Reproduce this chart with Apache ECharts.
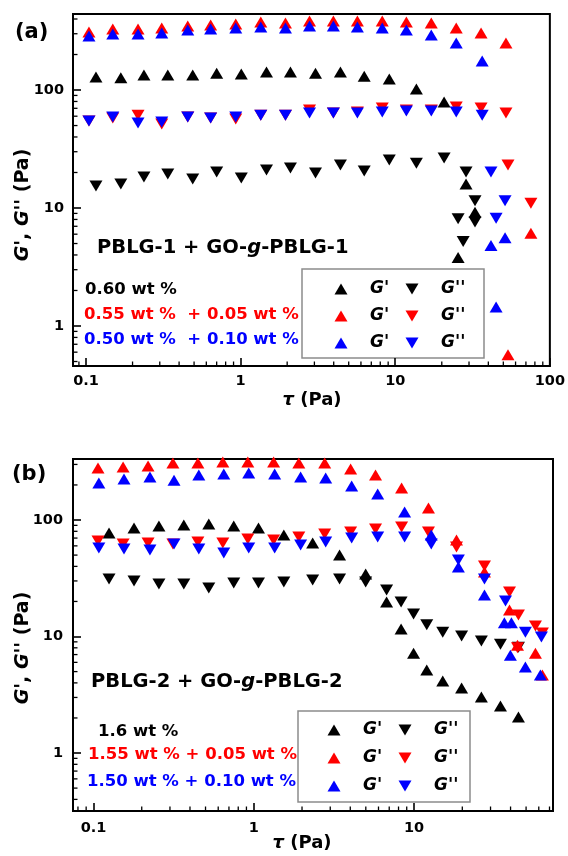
<!DOCTYPE html>
<html><head><meta charset="utf-8">
<script src="https://cdn.jsdelivr.net/npm/echarts@6/dist/echarts.min.js"></script>
<style>html,body{margin:0;padding:0;background:#fff}#c{width:568px;height:856px}</style>
</head><body><div id="c"></div>
<script>
// ---------- Panel (a): PBLG-1 ----------
const aBlackX   = [0.116,0.168,0.237,0.338,0.49,0.70,1.01,1.47,2.10,3.05,4.42,6.3,9.15,13.7,20.7,28.7,32.8,25.5];
const aBlackG1  = [129,127,134,134,134,139,137,142,142,139,142,131,124,102,79,16,9.2,3.8];
const aBlackX2  = [0.116,0.168,0.237,0.338,0.49,0.70,1.01,1.47,2.10,3.05,4.42,6.3,9.15,13.7,20.7,28.7,32.8,32.8,25.5,27.5];
const aBlackG2  = [15.4,16,18.3,19.4,17.6,20.2,18,21,21.8,19.8,23.1,20.6,25.5,24,26.5,20.2,11.5,7.6,8.1,5.2];
const aRedX     = [0.1045,0.149,0.217,0.309,0.455,0.64,0.93,1.35,1.95,2.79,3.98,5.69,8.24,11.8,17.1,24.8,35.9,52,53.6,75.4];
const aRedG1    = [310,329,329,335,349,355,362,377,370,385,385,385,385,377,370,335,304,250,0.57,6.1];
const aRedG2    = [54.6,58,61,51.5,59,58,56.8,61,61,67.8,63.8,65,70.4,67.8,67.8,71.8,70.4,63.8,23.1,11];
const aBlueX    = [0.1045,0.149,0.217,0.309,0.455,0.64,0.93,1.35,1.95,2.79,3.98,5.69,8.24,11.8,17.1,24.8,36.5,41.6,44.9,51.3];
const aBlueG1   = [287,299,299,304,322,329,335,342,335,349,349,342,335,322,292,250,176,4.8,1.45,5.6];
const aBlueG2   = [54.6,59,52.6,53.6,59,58,59,61,61,63.8,63.8,63.8,65,66.4,66.4,65,61,20.2,8.2,11.5];

// ---------- Panel (b): PBLG-2 ----------
const bBlackX   = [0.125,0.179,0.256,0.366,0.524,0.75,1.07,1.54,2.33,3.43,4.99,6.74,8.3,9.93,12.0,15.1,19.8,26.3,34.6,44.8];
const bBlackG1  = [77.3,85.3,88.8,90.6,92.4,88.8,85.3,74.3,63.5,50.1,34.4,19.8,11.6,7.2,5.15,4.15,3.61,3.03,2.53,2.04];
const bBlackG2  = [31.2,29.9,28.2,28.2,26.1,28.8,28.8,29.4,30.6,31.2,29.4,25.1,19.8,15.6,12.6,10.9,10.1,9.15,8.6,8.1];
const bRedX     = [0.1067,0.153,0.219,0.313,0.448,0.641,0.918,1.33,1.91,2.77,4.02,5.75,8.36,12.3,18.4,27.5,39.4,44.2,57.2,63.2];
const bRedG1    = [279,285,291,309,309,315,315,315,309,309,274,243,188,127,67.3,35.8,16.9,8.4,7.2,4.67];
const bRedX2    = [0.1067,0.153,0.219,0.313,0.448,0.641,0.918,1.33,1.91,2.77,4.02,5.75,8.36,12.3,18.4,27.5,39.4,44.8,57.2,63.2,44.2];
const bRedG2    = [66,62.3,63.5,62.3,64.7,63.5,68.7,67.3,71.4,75.9,78.9,83.7,87.1,78.9,58.6,40.3,24.1,15.3,12.3,10.7,8.0];
const bBlueX    = [0.108,0.155,0.225,0.318,0.454,0.65,0.93,1.35,1.96,2.81,4.08,5.93,8.73,12.8,18.9,27.5,36.6,40.5,39.9,49.5,61.4];
const bBlueG1   = [208,225,234,220,243,248,253,248,234,229,196,167,117,74.3,39.5,22.7,13.1,13.1,6.9,5.47,4.67];
const bBlueX2   = [0.108,0.155,0.225,0.318,0.454,0.65,0.93,1.35,1.96,2.81,4.08,5.93,8.73,12.8,18.9,27.5,37.2,49.5,62.3];
const bBlueG2   = [57.5,56.4,55.3,62.2,56.4,52.1,57.5,57.5,61,64.7,70,71.4,71.4,62.2,45.4,31.2,20.2,10.9,9.9];

// ---------- Axes / ticks ----------
const aXRange = [0.0824, 100], aYRange = [0.458, 441];
const bXRange = [0.0745, 73.6], bYRange = [0.318, 334];
const aXTickVals = [0.1, 1, 10, 100], aXTickLabels = ['0.1', '1', '10', '100'];
const aYTickVals = [1, 10, 100],      aYTickLabels = ['1', '10', '100'];
const bXTickVals = [0.1, 1, 10],      bXTickLabels = ['0.1', '1', '10'];
const bYTickVals = [1, 10, 100],      bYTickLabels = ['1', '10', '100'];
const aXMinor = [0.09,0.2,0.3,0.4,0.5,0.6,0.7,0.8,0.9,2,3,4,5,6,7,8,9,20,30,40,50,60,70,80,90];
const aYMinor = [0.5,0.6,0.7,0.8,0.9,2,3,4,5,6,7,8,9,20,30,40,50,60,70,80,90,200,300,400];
const bXMinor = [0.08,0.09,0.2,0.3,0.4,0.5,0.6,0.7,0.8,0.9,2,3,4,5,6,7,8,9,20,30,40,50,60,70];
const bYMinor = [0.4,0.5,0.6,0.7,0.8,0.9,2,3,4,5,6,7,8,9,20,30,40,50,60,70,80,90,200,300];

const colors = { black: '#000000', red: '#ff0000', blue: '#0000ff' };

const FONT = '"DejaVu Sans", sans-serif';
const UP = 'path://M6.5,0 L13,11 L0,11 Z';
const DOWN = 'path://M0,0 L13,0 L6.5,11 Z';

function pts(xs, ys) { return xs.map((x, i) => [x, ys[i]]); }
function fmt(vals, labels) {
  return v => {
    for (let i = 0; i < vals.length; i++) if (Math.abs(Math.log10(v / vals[i])) < 1e-6) return labels[i];
    return '';
  };
}
function axis(grid, range, vals, labels, margin) {
  return {
    gridIndex: grid, type: 'log', logBase: 10, min: range[0], max: range[1],
    axisLine: { show: true, lineStyle: { color: '#000', width: 2 } },
    axisTick: { show: true, inside: true, length: 8, lineStyle: { color: '#000', width: 1.6 } },
    axisLabel: { margin: margin, color: '#000', fontFamily: FONT, fontWeight: 'bold', fontSize: 14.5, formatter: fmt(vals, labels) },
    splitLine: { show: false }, minorTick: { show: false }
  };
}
function scatter(name, idx, data, color, sym) {
  return {
    name: name, type: 'scatter', xAxisIndex: idx, yAxisIndex: idx, data: data,
    symbol: sym, symbolSize: [13, 11], itemStyle: { color: color, opacity: 1 },
    emphasis: { disabled: true }, clip: false, z: 3
  };
}
// minor ticks (inside), placed through the axes' own scales
function minorSeries(idx, data, horizontal) {
  return {
    type: 'custom', xAxisIndex: idx, yAxisIndex: idx, silent: true, z: 20, clip: false, data: data,
    renderItem: (params, api) => {
      const p = api.coord([api.value(0), api.value(1)]);
      return {
        type: 'line',
        shape: horizontal ? { x1: p[0], y1: p[1], x2: p[0] + 4.5, y2: p[1] } : { x1: p[0], y1: p[1], x2: p[0], y2: p[1] - 4.5 },
        style: { stroke: '#000', lineWidth: 1.3 }
      };
    }
  };
}
function legend(left, top, gap, names) {
  return {
    orient: 'vertical', left: left, top: top, padding: 0, itemGap: gap,
    itemWidth: 13, itemHeight: 11, selectedMode: false, data: names,
    formatter: n => n.split(' ')[2],
    textStyle: { color: '#000', fontFamily: FONT, fontWeight: 'bold', fontStyle: 'italic', fontSize: 17, lineHeight: 17, padding: [0, 0, 0, 17.5] }
  };
}

const series = [
  scatter("a black G'", 0, pts(aBlackX, aBlackG1), colors.black, UP),
  scatter("a black G''", 0, pts(aBlackX2, aBlackG2), colors.black, DOWN),
  scatter("a red G'", 0, pts(aRedX, aRedG1), colors.red, UP),
  scatter("a red G''", 0, pts(aRedX, aRedG2), colors.red, DOWN),
  scatter("a blue G'", 0, pts(aBlueX, aBlueG1), colors.blue, UP),
  scatter("a blue G''", 0, pts(aBlueX, aBlueG2), colors.blue, DOWN),
  scatter("b black G'", 1, pts(bBlackX, bBlackG1), colors.black, UP),
  scatter("b black G''", 1, pts(bBlackX, bBlackG2), colors.black, DOWN),
  scatter("b red G'", 1, pts(bRedX, bRedG1), colors.red, UP),
  scatter("b red G''", 1, pts(bRedX2, bRedG2), colors.red, DOWN),
  scatter("b blue G'", 1, pts(bBlueX, bBlueG1), colors.blue, UP),
  scatter("b blue G''", 1, pts(bBlueX2, bBlueG2), colors.blue, DOWN),
  minorSeries(0, aXMinor.map(v => [v, aYRange[0]]), false),
  minorSeries(0, aYMinor.map(v => [aXRange[0], v]), true),
  minorSeries(1, bXMinor.map(v => [v, bYRange[0]]), false),
  minorSeries(1, bYMinor.map(v => [bXRange[0], v]), true)
];

function txt(x, y, text, rich, align, rot) {
  return {
    type: 'text', x: x, y: y, rotation: rot || 0, silent: true, z: 10,
    style: { text: text, rich: rich, textAlign: align || 'left', textVerticalAlign: 'middle' }
  };
}
const R = (size, color) => ({
  n: { fontFamily: FONT, fontWeight: 'bold', fontSize: size, fill: color, color: color },
  i: { fontFamily: FONT, fontWeight: 'bold', fontStyle: 'italic', fontSize: size, fill: color, color: color }
});

const graphic = [
  { type: 'rect', shape: { x: 302, y: 269, width: 182, height: 89 }, style: { fill: 'none', stroke: '#8c8c8c', lineWidth: 1.5 }, silent: true },
  { type: 'rect', shape: { x: 298, y: 711, width: 172, height: 91 }, style: { fill: 'none', stroke: '#8c8c8c', lineWidth: 1.5 }, silent: true },
  txt(15, 33, '{n|(a)}', R(21, '#000')),
  txt(12, 475, '{n|(b)}', R(21, '#000')),
  txt(97, 248, '{n|PBLG-1 + GO-}{i|g}{n|-PBLG-1}', R(19.5, '#000')),
  txt(85, 290, '{n|0.60 wt %}', R(16.5, '#000')),
  txt(84, 315, '{n|0.55 wt %  + 0.05 wt %}', R(16.5, '#ff0000')),
  txt(84, 340, '{n|0.50 wt %  + 0.10 wt %}', R(16.5, '#0000ff')),
  txt(91, 682, '{n|PBLG-2 + GO-}{i|g}{n|-PBLG-2}', R(19.5, '#000')),
  txt(98, 732, '{n|1.6 wt %}', R(16.5, '#000')),
  txt(88, 755, '{n|1.55 wt % + 0.05 wt %}', R(16.5, '#ff0000')),
  txt(87, 782, '{n|1.50 wt % + 0.10 wt %}', R(16.5, '#0000ff')),
  txt(23, 205, "{i|G}{n|', }{i|G}{n|'' (Pa)}", R(19, '#000'), 'center', Math.PI / 2),
  txt(23, 648, "{i|G}{n|', }{i|G}{n|'' (Pa)}", R(19, '#000'), 'center', Math.PI / 2),
  txt(312, 400, '{i|τ}{n| (Pa)}', R(18, '#000'), 'center'),
  txt(302, 843, '{i|τ}{n| (Pa)}', R(18, '#000'), 'center')
];

const chart = echarts.init(document.getElementById('c'), null, { renderer: 'canvas' });
chart.setOption({
  animation: false,
  backgroundColor: '#fff',
  grid: [
    { left: 73, top: 14, right: 16, bottom: 490, show: true, borderColor: '#000', borderWidth: 2, backgroundColor: 'transparent' },
    { left: 73, top: 459, right: 15, bottom: 45, show: true, borderColor: '#000', borderWidth: 2, backgroundColor: 'transparent' }
  ],
  xAxis: [axis(0, aXRange, aXTickVals, aXTickLabels, 8), axis(1, bXRange, bXTickVals, bXTickLabels, 10)],
  yAxis: [axis(0, aYRange, aYTickVals, aYTickLabels, 9), axis(1, bYRange, bYTickVals, bYTickLabels, 10)],
  legend: [
    legend(334.5, 280.5, 10, ["a black G'", "a red G'", "a blue G'"]),
    legend(405.5, 280.5, 10, ["a black G''", "a red G''", "a blue G''"]),
    legend(327.5, 721.5, 11, ["b black G'", "b red G'", "b blue G'"]),
    legend(398.5, 721.5, 11, ["b black G''", "b red G''", "b blue G''"])
  ],
  series: series,
  graphic: graphic
});
</script></body></html>
